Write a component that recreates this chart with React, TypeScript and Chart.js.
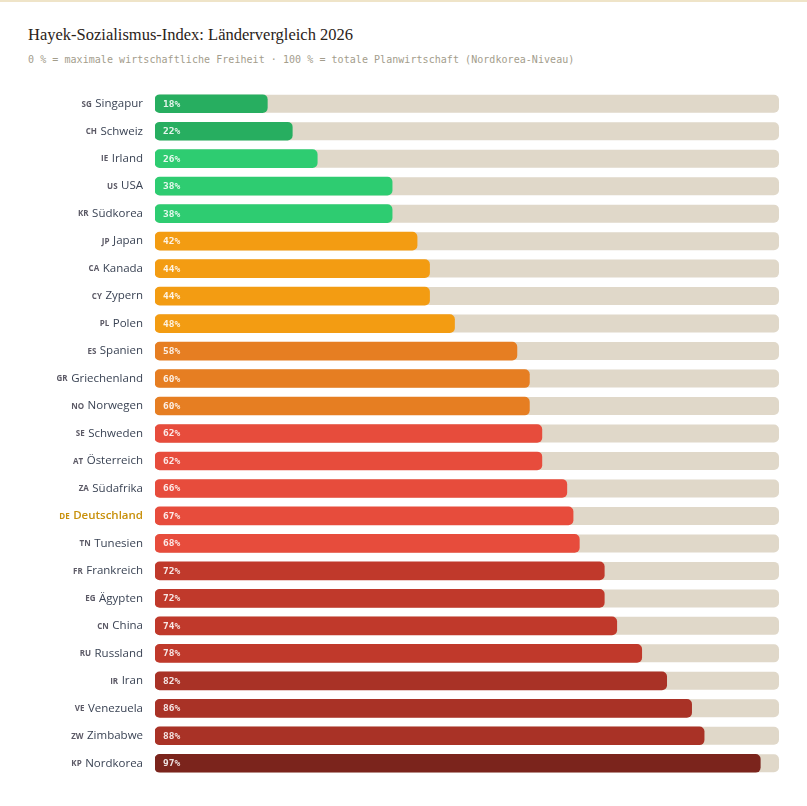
import React, { useEffect, useRef } from "react";
import { Chart, registerables } from "chart.js";

Chart.register(...registerables);

const countries = [
  "Singapur", "Schweiz", "Irland", "USA", "Südkorea", "Japan", "Kanada", "Zypern", "Polen",
  "Spanien", "Griechenland", "Norwegen", "Schweden", "Österreich", "Südafrika", "Deutschland",
  "Tunesien", "Frankreich", "Ägypten", "China", "Russland", "Iran", "Venezuela", "Zimbabwe", "Nordkorea",
];
const codes = [
  "SG", "CH", "IE", "US", "KR", "JP", "CA", "CY", "PL",
  "ES", "GR", "NO", "SE", "AT", "ZA", "DE",
  "TN", "FR", "EG", "CN", "RU", "IR", "VE", "ZW", "KP",
];
const scores = [
  18, 22, 26, 38, 38, 42, 44, 44, 48,
  58, 60, 60, 62, 62, 66, 67,
  68, 72, 72, 74, 78, 82, 86, 88, 97,
];
const highlight = "Deutschland";
const scaleMax = 100;

function colorFor(v: number): string {
  if (v < 25) return "#27ae60";
  if (v < 40) return "#2ecc71";
  if (v < 50) return "#f39c12";
  if (v < 62) return "#e67e22";
  if (v < 70) return "#e74c3c";
  if (v < 80) return "#c0392b";
  if (v < 90) return "#a93226";
  return "#7b241c";
}

const trackPlugin = {
  id: "tracks",
  beforeDatasetsDraw(chart: any) {
    const ctx = chart.ctx;
    const xs = chart.scales.x;
    const meta = chart.getDatasetMeta(0);
    const x0 = xs.getPixelForValue(0);
    const x1 = xs.getPixelForValue(scaleMax);
    ctx.save();
    ctx.fillStyle = "#e0d8c9";
    meta.data.forEach((el: any) => {
      const h = el.height;
      ctx.beginPath();
      (ctx as any).roundRect(x0, el.y - h / 2, x1 - x0, h, 5);
      ctx.fill();
    });
    ctx.restore();
  },
};

const labelPlugin = {
  id: "labels",
  afterDatasetsDraw(chart: any) {
    const ctx = chart.ctx;
    const ys = chart.scales.y;
    const xs = chart.scales.x;
    const meta = chart.getDatasetMeta(0);
    ctx.save();
    ctx.textBaseline = "middle";
    meta.data.forEach((el: any, i: number) => {
      ctx.font = "bold 9.5px 'DejaVu Sans Mono', monospace";
      ctx.fillStyle = "rgba(255,255,255,0.88)";
      ctx.textAlign = "left";
      ctx.fillText(scores[i] + "%", xs.getPixelForValue(0) + 8, el.y + 0.5);
    });
    const right = chart.chartArea.left - 12;
    countries.forEach((name: string, i: number) => {
      const y = ys.getPixelForValue(i);
      const hl = name === highlight;
      ctx.textAlign = "right";
      ctx.font = (hl ? "600 " : "") + "11.5px 'Open Sans', sans-serif";
      ctx.fillStyle = hl ? "#c8900a" : "#3a4354";
      ctx.fillText(name, right, y);
      const w = ctx.measureText(name).width;
      ctx.font = "bold 8px 'Open Sans', sans-serif";
      ctx.fillStyle = hl ? "#c8900a" : "#5c5a66";
      ctx.fillText(codes[i], right - w - 3.5, y + 0.5);
    });
    ctx.restore();
  },
};

export default function App() {
  const ref = useRef<HTMLCanvasElement | null>(null);
  useEffect(() => {
    if (!ref.current) return;
    const chart = new Chart(ref.current, {
      type: "bar",
      data: {
        labels: countries,
        datasets: [
          {
            data: scores,
            backgroundColor: scores.map(colorFor),
            borderRadius: 5,
            borderSkipped: false,
            barThickness: 18,
          },
        ],
      },
      options: {
        indexAxis: "y",
        responsive: false,
        maintainAspectRatio: false,
        animation: false,
        layout: { padding: { left: 155, right: 28, top: 0, bottom: 0 } },
        scales: {
          x: { display: false, min: 0, max: scaleMax },
          y: { display: false },
        },
        plugins: {
          legend: { display: false },
          tooltip: { enabled: false },
          title: { display: false },
        },
      },
      plugins: [trackPlugin, labelPlugin],
    });
    return () => chart.destroy();
  }, []);

  return (
    <div
      style={{
        position: "absolute",
        left: 0,
        top: 0,
        width: 807,
        height: 806,
        background: "#ffffff",
        borderTop: "2px solid #efe4c8",
        boxSizing: "border-box",
        overflow: "hidden",
      }}
    >
      <div
        style={{
          position: "absolute",
          left: 28,
          top: 23,
          fontFamily: "'Liberation Serif', 'DejaVu Serif', serif",
          fontSize: 16.5,
          color: "#2a2218",
          whiteSpace: "nowrap",
        }}
      >
        Hayek-Sozialismus-Index: Ländervergleich 2026
      </div>
      <div
        style={{
          position: "absolute",
          left: 28,
          top: 52,
          fontFamily: "'DejaVu Sans Mono', monospace",
          fontSize: 10,
          letterSpacing: 0.05,
          color: "#a39d8c",
          whiteSpace: "nowrap",
        }}
      >
        0 % = maximale wirtschaftliche Freiheit · 100 % = totale Planwirtschaft (Nordkorea-Niveau)
      </div>
      <canvas
        ref={ref}
        width={807}
        height={687}
        style={{ position: "absolute", left: 0, top: 88, width: 807, height: 687 }}
      />
    </div>
  );
}
